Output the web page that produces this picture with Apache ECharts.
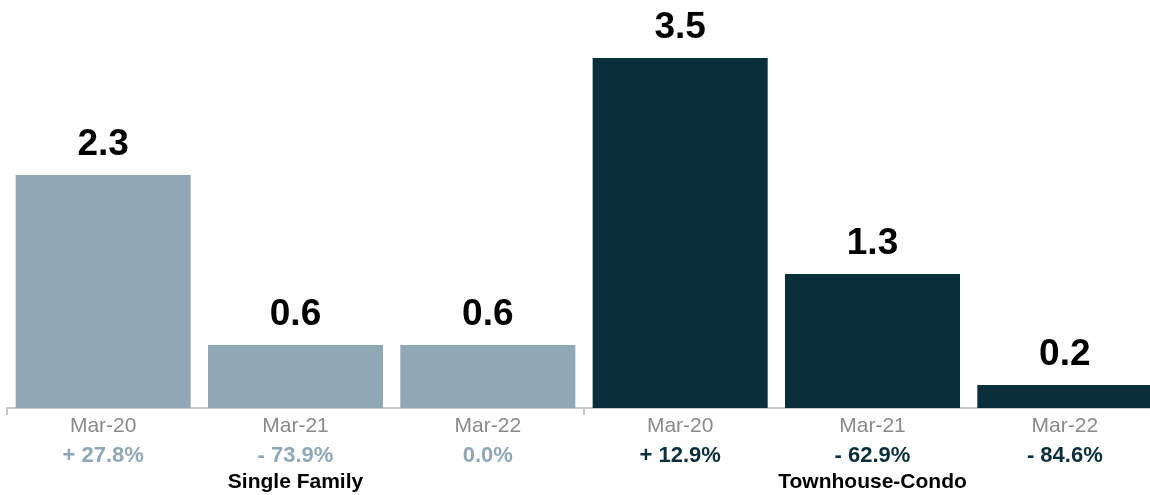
<!DOCTYPE html>
<html>
<head>
<meta charset="utf-8">
<script src="https://cdn.jsdelivr.net/npm/echarts@6/dist/echarts.min.js"></script>
<style>
  html, body { margin: 0; padding: 0; background: #fff; overflow: hidden; }
  /* plot runs a little past the right edge, as in the original */
  #main { width: 1161px; height: 495px; }
</style>
</head>
<body>
<div id="main"></div>
<script>
const months = ['Mar-20', 'Mar-21', 'Mar-22', 'Mar-20', 'Mar-21', 'Mar-22'];
const values = [2.33, 0.63, 0.63, 3.5, 1.34, 0.23];
const changes = ['+ 27.8%', '- 73.9%', '0.0%', '+ 12.9%', '- 62.9%', '- 84.6%'];
const groups = ['Single Family', 'Townhouse-Condo'];
const groupOf = [0, 0, 0, 1, 1, 1];
const groupColors = ['#90a8b6', '#0a2e3a'];

const font = '"Liberation Sans", Arial, Helvetica, sans-serif';
const chart = echarts.init(document.getElementById('main'));

const option = {
    animation: false,
    grid: {
        left: 7,
        right: 0,
        top: 58,
        bottom: 87
    },
    xAxis: [{
        type: 'category',
        data: months,
        axisLine: { lineStyle: { color: '#c8c8c8', width: 2 } },
        axisTick: { show: false },
        axisLabel: {
            margin: 3,
            interval: 0,
            formatter: function (val, i) {
                const style = groupOf[i] === 0 ? 'p0' : 'p1';
                return '{m|' + val + '}\n{' + style + '|' + changes[i] + '}';
            },
            rich: {
                m: { fontFamily: font, fontSize: 21, color: '#8a8a8a', lineHeight: 30 },
                p0: { fontFamily: font, fontSize: 22, fontWeight: 'bold', color: groupColors[0], lineHeight: 30 },
                p1: { fontFamily: font, fontSize: 22, fontWeight: 'bold', color: groupColors[1], lineHeight: 30 }
            }
        }
    }, {
        type: 'category',
        position: 'bottom',
        data: groups,
        axisLine: { show: false },
        axisTick: { show: true, length: 7, lineStyle: { color: '#c8c8c8', width: 2 } },
        axisLabel: {
            margin: 62,
            fontFamily: font,
            fontSize: 21,
            fontWeight: 'bold',
            color: '#000',
            lineHeight: 24
        }
    }],
    yAxis: {
        type: 'value',
        min: 0,
        max: 3.5,
        show: false,
        splitLine: { show: false }
    },
    series: [{
        type: 'bar',
        barWidth: '91%',
        data: values.map(function (v, i) {
            return { value: v, itemStyle: { color: groupColors[groupOf[i]] } };
        }),
        label: {
            show: true,
            position: 'top',
            distance: 12,
            fontFamily: font,
            fontSize: 37,
            fontWeight: 'bold',
            color: '#000',
            formatter: function (p) { return p.value.toFixed(1); }
        }
    }]
};
chart.setOption(option);
</script>
</body>
</html>
